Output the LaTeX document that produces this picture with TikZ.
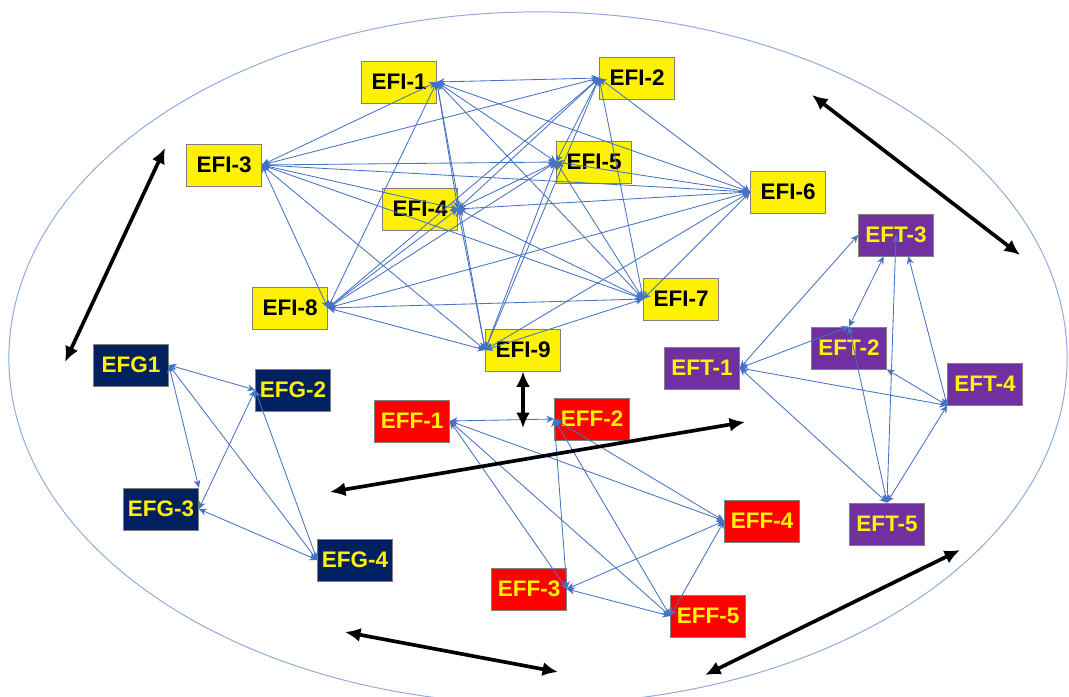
\documentclass[tikz,border=0pt]{standalone}
\usepackage{fontspec}
\setmainfont{Liberation Sans}
\usepackage{tikz}
\usetikzlibrary{arrows.meta}

\definecolor{linkblue}{HTML}{4472C4}
\definecolor{rimblue}{HTML}{8FAADC}
\definecolor{navybox}{HTML}{002060}
\definecolor{purplebox}{HTML}{7030A0}

\begin{document}
\begin{tikzpicture}[x=0.025cm, y=-0.025cm,
	box/.style={rectangle, draw=black!50, line width=0.6pt, minimum width=1.87cm, minimum height=1.05cm, inner sep=1pt, font=\fontsize{16}{19}\selectfont\bfseries},
	ibox/.style={box, fill=yellow, text=black},
	gbox/.style={box, fill=navybox, text=yellow},
	fbox/.style={box, fill=red, text=yellow},
	tbox/.style={box, fill=purplebox, text=yellow},
	link/.style={draw=linkblue, line width=0.6pt, {Stealth[length=5.5pt,width=5pt]}-{Stealth[length=5.5pt,width=5pt]}},
	bigarrow/.style={draw=black, line width=2.6pt, {Latex[length=11pt,width=10pt]}-{Latex[length=11pt,width=10pt]}}]
	\useasboundingbox (0,0) rectangle (1069,696);
	\clip (0,0) rectangle (1069,696);
	\draw[rimblue, line width=0.7pt] (538,358) ellipse [x radius=13.225cm, y radius=8.65cm];

	% EFI group
	\node (i1) at (399,82) [ibox] {EFI-1};
	\node (i2) at (637,78) [ibox] {EFI-2};
	\node (i3) at (224,165) [ibox] {EFI-3};
	\node (i4) at (420,209) [ibox] {EFI-4};
	\node (i5) at (594,162) [ibox] {EFI-5};
	\node (i6) at (788,192) [ibox] {EFI-6};
	\node (i7) at (681,299) [ibox] {EFI-7};
	\node (i8) at (290,308) [ibox] {EFI-8};
	\node (i9) at (523,350) [ibox] {EFI-9};

	% EFG group
	\node (g1) at (131,365) [gbox] {EFG1};
	\node (g2) at (293,390) [gbox] {EFG-2};
	\node (g3) at (161,509) [gbox] {EFG-3};
	\node (g4) at (355,560) [gbox] {EFG-4};

	% EFF group
	\node (f1) at (412,421) [fbox] {EFF-1};
	\node (f2) at (592,419) [fbox] {EFF-2};
	\node (f3) at (529,589) [fbox] {EFF-3};
	\node (f4) at (762,521) [fbox] {EFF-4};
	\node (f5) at (708,616) [fbox] {EFF-5};

	% EFT group
	\node (t3) at (896,235) [tbox] {EFT-3};
	\node (t2) at (849,348) [tbox] {EFT-2};
	\node (t1) at (702,368) [tbox] {EFT-1};
	\node (t4) at (985,384) [tbox] {EFT-4};
	\node (t5) at (887,524) [tbox] {EFT-5};

	% free ends of the black arrows
	\coordinate (a1) at (165,148);
	\coordinate (b1) at (65,362);
	\coordinate (a2) at (812,95);
	\coordinate (b2) at (1020,255);
	\coordinate (b3) at (523,428);
	\coordinate (a4) at (330,492);
	\coordinate (b4) at (745,422);
	\coordinate (a5) at (345,632);
	\coordinate (b5) at (558,672);
	\coordinate (a6) at (705,675);
	\coordinate (b6) at (960,550);

	\draw[link] (i1.east) -- (i2.west);
	\draw[link] (i1.east) -- (i3.east);
	\draw[link] (i1.east) -- (i4.east);
	\draw[link] (i1.east) -- (i5.west);
	\draw[link] (i1.east) -- (i6.west);
	\draw[link] (i1.east) -- (i7.west);
	\draw[link] (i1.east) -- (i8.east);
	\draw[link] (i1.east) -- (i9.west);
	\draw[link] (i2.west) -- (i3.east);
	\draw[link] (i2.west) -- (i4.east);
	\draw[link] (i2.west) -- (i5.west);
	\draw[link] (i2.west) -- (i6.west);
	\draw[link] (i2.west) -- (i7.west);
	\draw[link] (i2.west) -- (i8.east);
	\draw[link] (i2.west) -- (i9.west);
	\draw[link] (i3.east) -- (i4.east);
	\draw[link] (i3.east) -- (i5.west);
	\draw[link] (i3.east) -- (i6.west);
	\draw[link] (i3.east) -- (i7.west);
	\draw[link] (i3.east) -- (i8.east);
	\draw[link] (i3.east) -- (i9.west);
	\draw[link] (i4.east) -- (i5.west);
	\draw[link] (i4.east) -- (i6.west);
	\draw[link] (i4.east) -- (i7.west);
	\draw[link] (i4.east) -- (i8.east);
	\draw[link] (i4.east) -- (i9.west);
	\draw[link] (i5.west) -- (i6.west);
	\draw[link] (i5.west) -- (i7.west);
	\draw[link] (i5.west) -- (i8.east);
	\draw[link] (i5.west) -- (i9.west);
	\draw[link] (i6.west) -- (i7.west);
	\draw[link] (i6.west) -- (i8.east);
	\draw[link] (i6.west) -- (i9.west);
	\draw[link] (i7.west) -- (i8.east);
	\draw[link] (i7.west) -- (i9.west);
	\draw[link] (i8.east) -- (i9.west);

	\draw[link] (g1.east) -- (g2.west);
	\draw[link] (g1.east) -- (g3.north east);
	\draw[link] (g1.east) -- (g4.west);
	\draw[link] (g2.west) -- (g3.east);
	\draw[link] (g2.west) -- (g4.west);
	\draw[link] (g3.east) -- (g4.west);

	\draw[link] (f1.east) -- (f2.west);
	\draw[link] (f1.east) -- (f3.east);
	\draw[link] (f1.east) -- (f4.west);
	\draw[link] (f1.east) -- (f5.west);
	\draw[link] (f2.west) -- (f3.east);
	\draw[link] (f2.west) -- (f4.west);
	\draw[link] (f2.west) -- (f5.west);
	\draw[link] (f3.east) -- (f4.west);
	\draw[link] (f3.east) -- (f5.west);
	\draw[link] (f4.west) -- (f5.west);

	\draw[link] (t1.east) -- (t3.west);
	\draw[link] (t1.east) -- (t2.north);
	\draw[link] (t1.east) -- (t4.south west);
	\draw[link] (t1.east) -- (t5.north);
	\draw[link] (t3.-120) -- (t2.north);
	\draw[link] (t3.center) -- (t5.north);
	\draw[link] (t3.-60) -- (t4.south west);
	\draw[link] (t2.south east) -- (t4.south west);
	\draw[link] (t2.north) -- (t5.north);
	\draw[link] (t4.south west) -- (t5.north);

	\draw[bigarrow] (a1) -- (b1);
	\draw[bigarrow] (a2) -- (b2);
	\draw[bigarrow] (i9.south) -- (b3);
	\draw[bigarrow] (a4) -- (b4);
	\draw[bigarrow] (a5) -- (b5);
	\draw[bigarrow] (a6) -- (b6);
\end{tikzpicture}
\end{document}
